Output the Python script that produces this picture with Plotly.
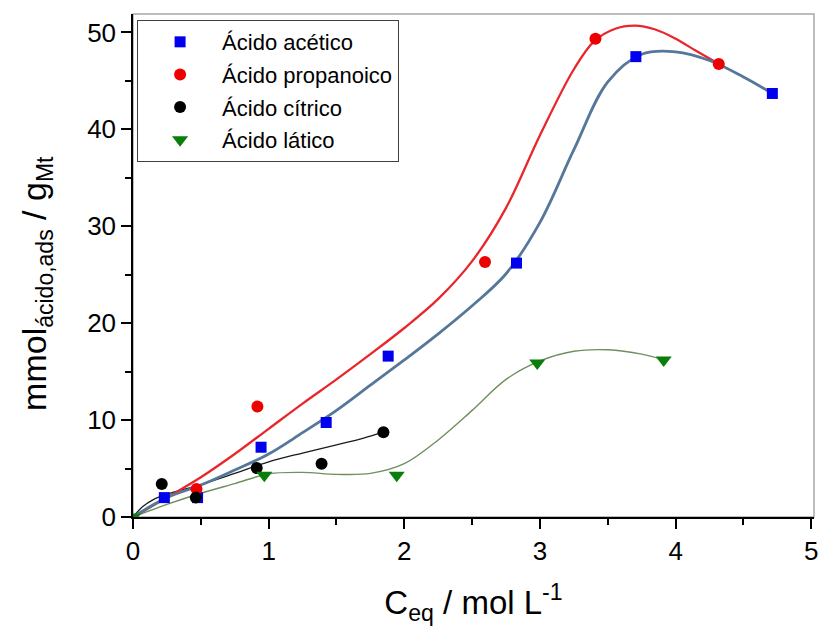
import plotly.graph_objects as go

# ---- measured data points ----
acetic_x = [0.231, 0.476, 0.944, 1.424, 1.881, 2.827, 3.707, 4.713]
acetic_y = [2.0, 2.0, 7.2, 9.75, 16.6, 26.2, 47.5, 43.7]

propanoic_x = [0.468, 0.917, 2.595, 3.409, 4.318]
propanoic_y = [2.9, 11.4, 26.3, 49.35, 46.75]

citric_x = [0.212, 0.463, 0.912, 1.39, 1.846]
citric_y = [3.4, 2.0, 5.05, 5.5, 8.75]

lactic_x = [0.0, 0.968, 1.944, 2.98, 3.912]
lactic_y = [0.0, 4.3, 4.3, 15.9, 16.2]

# ---- fitted curves (knots) ----
fit_acetic_x = [0, 0.25, 0.5, 0.75, 1.0, 1.25, 1.5, 1.75, 2.0, 2.25, 2.5, 2.75, 3.0, 3.25, 3.5, 3.75, 4.0, 4.25, 4.5, 4.713]
fit_acetic_y = [0, 2.0, 3.3, 4.85, 6.5, 8.7, 11.0, 13.6, 16.2, 18.9, 21.8, 25.1, 30.4, 37.9, 44.9, 47.75, 48.0, 47.1, 45.4, 43.7]

fit_prop_x = [0, 0.25, 0.5, 0.75, 1.0, 1.25, 1.5, 1.75, 2.0, 2.25, 2.5, 2.75, 3.0, 3.25, 3.4, 3.55, 3.7, 3.85, 4.0, 4.15, 4.318]
fit_prop_y = [0, 2.0, 4.1, 6.5, 9.1, 11.7, 14.2, 16.8, 19.5, 22.5, 26.4, 31.9, 39.4, 46.2, 49.1, 50.35, 50.7, 50.3, 49.35, 48.1, 46.75]

fit_cit_x = [0, 0.07, 0.15, 0.25, 0.5, 0.75, 1.0, 1.25, 1.5, 1.7, 1.846]
fit_cit_y = [0, 1.06, 1.8, 2.35, 3.35, 4.5, 5.7, 6.6, 7.45, 8.15, 8.75]

fit_lac_x = [0, 0.25, 0.5, 0.75, 1.0, 1.25, 1.5, 1.75, 2.0, 2.25, 2.5, 2.75, 3.0, 3.25, 3.5, 3.75, 3.912]
fit_lac_y = [0, 1.3, 2.45, 3.45, 4.45, 4.6, 4.4, 4.5, 5.5, 7.95, 11.0, 14.2, 16.1, 17.1, 17.25, 16.8, 16.2]

names = ["Ácido acético", "Ácido propanoico", "Ácido cítrico", "Ácido lático"]
y_title = "mmol<sub><span style='font-size:23px'>ácido,ads</span></sub> / g<sub><span style='font-size:23px'>Mt</span></sub>"
x_title = "C<sub>eq</sub> / mol L<sup>-1</sup>"

fig = go.Figure()

# fits
fig.add_trace(go.Scatter(x=fit_cit_x, y=fit_cit_y, mode="lines", line=dict(color="#1a1a1a", width=1.3, shape="spline"), showlegend=False, hoverinfo="skip"))
fig.add_trace(go.Scatter(x=fit_lac_x, y=fit_lac_y, mode="lines", line=dict(color="#6f8f5f", width=1.4, shape="spline"), showlegend=False, hoverinfo="skip"))
fig.add_trace(go.Scatter(x=fit_prop_x, y=fit_prop_y, mode="lines", line=dict(color="#e8262b", width=2.3, shape="spline"), showlegend=False, hoverinfo="skip"))
fig.add_trace(go.Scatter(x=fit_acetic_x, y=fit_acetic_y, mode="lines", line=dict(color="#557799", width=2.8, shape="spline"), showlegend=False, hoverinfo="skip"))

# markers
fig.add_trace(go.Scatter(x=acetic_x, y=acetic_y, mode="markers", name=names[0], legendgroup="a",
                         marker=dict(symbol="square", size=11, color="#0000ee")))
fig.add_trace(go.Scatter(x=propanoic_x, y=propanoic_y, mode="markers", name=names[1], legendgroup="b",
                         marker=dict(symbol="circle", size=12, color="#ee0000")))
fig.add_trace(go.Scatter(x=citric_x, y=citric_y, mode="markers", name=names[2], legendgroup="c",
                         marker=dict(symbol="circle", size=12, color="#000000")))
fig.add_trace(go.Scatter(x=lactic_x, y=lactic_y, mode="markers", name=names[3], legendgroup="d",
                         marker=dict(symbol="triangle-down", size=14, color="#0a7d0a")))

font = "Liberation Sans, Arial, sans-serif"

fig.update_layout(
    width=826, height=630,
    margin=dict(l=133, r=7, t=14, b=113),
    paper_bgcolor="white", plot_bgcolor="white",
    font=dict(family=font, color="black"),
    showlegend=True,
    legend=dict(x=0.006, y=0.988, xanchor="left", yanchor="top",
                bgcolor="white", bordercolor="#404040", borderwidth=1,
                font=dict(size=22, family=font), itemwidth=74,
                traceorder="grouped", tracegroupgap=1),
    shapes=[dict(type="rect", xref="paper", yref="paper", x0=0, x1=1, y0=0, y1=1,
                 line=dict(color="#a8a8a8", width=1.5), layer="below")],
    annotations=[dict(text=y_title, xref="paper", yref="paper", x=-0.142, y=0.464,
                      xanchor="center", yanchor="middle", textangle=-90, showarrow=False,
                      font=dict(size=34, family=font, color="black"))],
)

fig.update_xaxes(
    range=[0, 5.02], showgrid=False, zeroline=False,
    showline=True, linecolor="black", linewidth=1.5,
    ticks="outside", ticklen=10, tickwidth=1.5, tickcolor="black",
    tick0=0, dtick=1, tickfont=dict(size=26, family=font),
    minor=dict(ticks="outside", ticklen=6, tickwidth=1.5, tickcolor="black", dtick=0.5),
    title=dict(text=x_title, font=dict(size=33, family=font), standoff=26),
)
fig.update_yaxes(
    range=[0, 51.9], showgrid=False, zeroline=False,
    showline=True, linecolor="black", linewidth=1.5,
    ticks="outside", ticklen=10, tickwidth=1.5, tickcolor="black",
    tick0=0, dtick=10, tickfont=dict(size=26, family=font),
    minor=dict(ticks="outside", ticklen=6, tickwidth=1.5, tickcolor="black", dtick=5),
)

fig.write_html("out.html")
